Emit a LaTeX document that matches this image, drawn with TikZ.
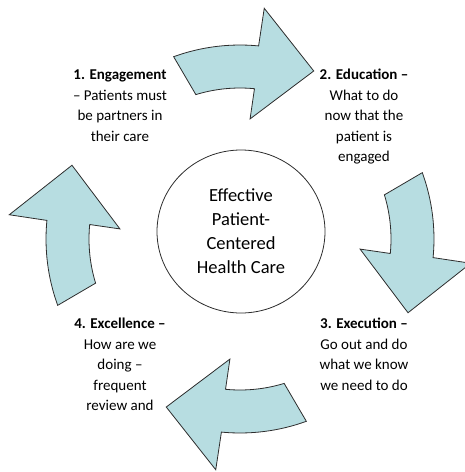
\documentclass[tikz,border=0pt]{standalone}
\usepackage{fontspec}
\setmainfont{Carlito}
\definecolor{cyclefill}{RGB}{183, 221, 225}
\definecolor{cycleline}{RGB}{45, 45, 45}
\usepackage{tikz}
\usetikzlibrary{shapes.geometric}

\begin{document}
\begin{tikzpicture}[x=1pt, y=1pt,
  cyclearrow/.style={draw=cycleline, fill=cyclefill, line width=0.8pt, line join=miter},
  stage/.style={align=center, anchor=north, inner sep=0pt, font=\fontsize{15}{20.5}\selectfont}]
  \useasboundingbox (0, 0) rectangle (465, -472);

  % Centre of the cycle
  \coordinate (hub) at (240, -239);

  % Four curved block arrows, one per quarter turn
  \foreach \turn in {0, -90, -180, -270} {
    \draw[cyclearrow, shift={(hub)}, rotate=\turn]
      (110:194) arc[start angle=110, end angle=84.5, radius=194]
      -- (84:232) -- (66.3:183.5) -- (85.2:120.5) -- (84.5:151)
      arc[start angle=84.5, end angle=107, radius=151] -- cycle;
  }

  % Middle circle
  \node[ellipse, draw=cycleline, line width=0.8pt, minimum width=168, minimum height=163,
        align=center, font=\fontsize{18.5}{24}\selectfont] (care) at (241, -231.5)
    {Effective\\Patient-\\Centered\\Health Care};

  % Stage labels
  \node[stage] (engage) at (120, -70) {\textbf{1. Engagement}\\– Patients must\\be partners in\\their care};
  \node[stage] (educate) at (364, -69) {\textbf{2. Education –}\\What to do\\now that the\\patient is\\engaged};
  \node[stage] (execute) at (364, -318) {\textbf{3. Execution –}\\Go out and do\\what we know\\we need to do};
  \node[stage] (excel) at (120, -318) {\textbf{4. Excellence –}\\How are we\\doing –\\frequent\\review and};
\end{tikzpicture}
\end{document}
